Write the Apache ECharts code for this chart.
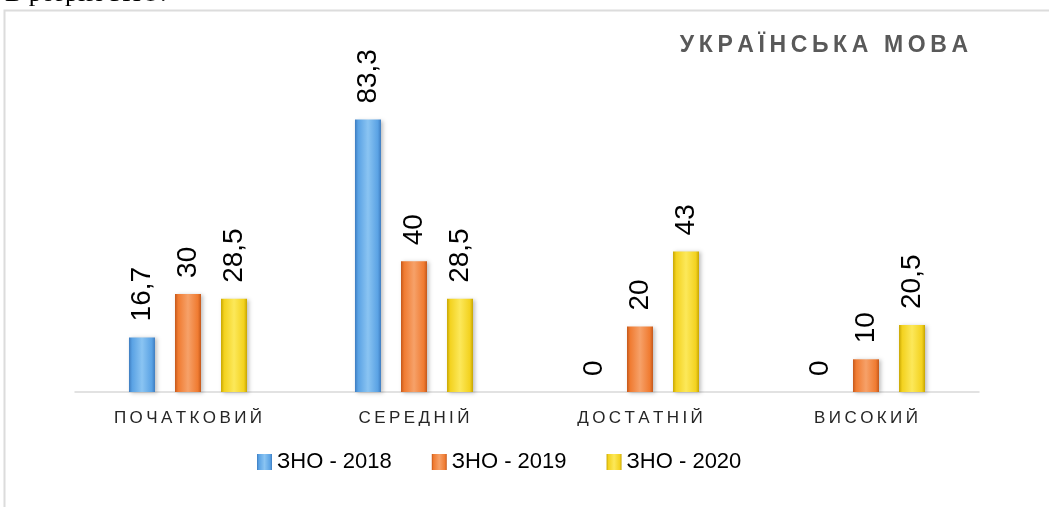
<!DOCTYPE html>
<html>
<head>
<meta charset="utf-8">
<title>Українська мова</title>
<script src="https://cdn.jsdelivr.net/npm/echarts/dist/echarts.min.js"></script>
<style>
	html, body { margin: 0; padding: 0; background: #fff; }
	#main { width: 1049px; height: 507px; }
</style>
</head>
<body>
<div id="main"></div>
<script>
//рівні
var levels = ['ПОЧАТКОВИЙ', 'СЕРЕДНІЙ', 'ДОСТАТНІЙ', 'ВИСОКИЙ'];
//назви серій
var seriesNames = ['ЗНО - 2018', 'ЗНО - 2019', 'ЗНО - 2020'];
//відсотки
var zno2018 = [16.7, 83.3, 0, 0];
var zno2019 = [30, 40, 20, 10];
var zno2020 = [28.5, 28.5, 43, 20.5];

//розрядка літер
function spaced(s, sep) {
	return s.split('').join(sep);
}

function barColor(dark, mid, light) {
	return new echarts.graphic.LinearGradient(0, 0, 1, 0, [
		{offset: 0, color: dark},
		{offset: 0.12, color: mid},
		{offset: 0.5, color: light},
		{offset: 0.88, color: mid},
		{offset: 1, color: dark}
	]);
}

var colors = [
	barColor('#3d7cc0', '#5aa2e4', '#8ac4f2'),
	barColor('#c4581b', '#f07b31', '#f6a169'),
	barColor('#c7a500', '#f3d21f', '#fce85a')
];

function makeSeries(idx, data) {
	return {
		name: seriesNames[idx],
		type: 'bar',
		barWidth: 26,
		barGap: '77%',
		data: data,
		itemStyle: {
			color: colors[idx],
			shadowBlur: 4,
			shadowColor: 'rgba(0,0,0,0.25)',
			shadowOffsetX: 2,
			shadowOffsetY: 1
		},
		label: {
			show: true,
			position: 'top',
			rotate: 90,
			align: 'left',
			verticalAlign: 'middle',
			distance: 16,
			color: '#000',
			fontFamily: 'Liberation Sans',
			fontSize: 28,
			formatter: function(p) {
				return String(p.value).replace('.', ',');
			}
		}
	};
}

var chart = echarts.init(document.getElementById('main'));

var option = {
	animation: false,
	textStyle: {fontFamily: 'Liberation Sans'},
	graphic: [
		{
			type: 'rect',
			shape: {x: 4.5, y: 10.5, width: 1200, height: 600},
			style: {fill: 'none', stroke: '#dcdcdc', lineWidth: 2},
			silent: true
		},
		{
			type: 'text',
			left: 5,
			top: -19,
			style: {
				text: 'В розрізі ЗНО.',
				fill: '#000',
				font: '26px "Liberation Serif"'
			}
		}
	],
	title: {
		text: spaced('УКРАЇНСЬКА МОВА', '\u2009'),
		right: 76,
		top: 29,
		textStyle: {
			color: '#595959',
			fontWeight: 'bold',
			fontSize: 23,
			fontFamily: 'Liberation Sans'
		}
	},
	legend: {
		data: seriesNames,
		icon: 'rect',
		left: 252,
		top: 446,
		itemWidth: 15,
		itemHeight: 16,
		itemGap: 40,
		textStyle: {
			color: '#000',
			fontSize: 22,
			fontFamily: 'Liberation Sans'
		}
	},
	grid: {
		left: 75,
		right: 70,
		top: 65,
		bottom: 115
	},
	xAxis: {
		type: 'category',
		data: levels,
		axisLine: {lineStyle: {color: '#d9d9d9', width: 1.5}},
		axisTick: {show: false},
		axisLabel: {
			margin: 18,
			color: '#262626',
			fontSize: 17,
			formatter: function(v) { return spaced(v, '\u2009'); }
		}
	},
	yAxis: {
		type: 'value',
		min: 0,
		max: 100,
		show: false,
		splitLine: {show: false}
	},
	series: [
		makeSeries(0, zno2018),
		makeSeries(1, zno2019),
		makeSeries(2, zno2020)
	]
};

chart.setOption(option);
</script>
</body>
</html>
